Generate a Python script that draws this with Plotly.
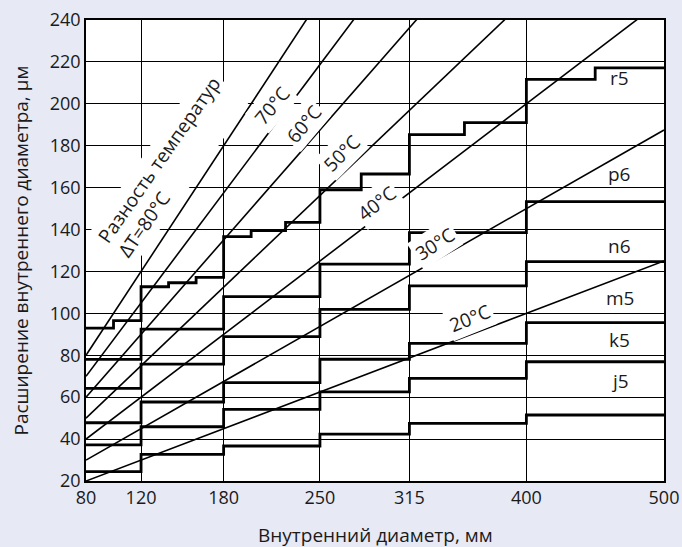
import plotly.graph_objects as go

# ---------------- data ----------------
diam_ticks = [80, 120, 180, 250, 315, 400, 500]

# diameter range boundaries (mm)
bounds_main = [80, 120, 180, 250, 315, 400, 500]
bounds_r5 = [80, 100, 120, 140, 160, 180, 200, 225, 250, 280, 315, 355, 400, 450, 500]

# expansion values (µm) per diameter range
r5 = [93, 96.5, 112.7, 114.6, 117.2, 136.6, 139.5, 143.4, 159, 166.5, 185.3, 191, 211.7, 217.2]
p6 = [78, 92.5, 108, 123.5, 138.5, 153.3]
n6 = [64.2, 75.8, 88.9, 101.9, 113.1, 124.7]
m5 = [47.8, 57.7, 66.9, 78.1, 85.7, 95.6]
k5 = [37.2, 45.9, 54.2, 62.5, 69, 76.9]
j5 = [24.5, 32.7, 36.7, 42.4, 47.5, 51.5]

classes = ["r5", "p6", "n6", "m5", "k5", "j5"]
class_vals = [r5, p6, n6, m5, k5, j5]
class_bounds = [bounds_r5, bounds_main, bounds_main, bounds_main, bounds_main, bounds_main]
class_label_y = [212.5, 166.5, 132.3, 107.2, 87.3, 67.7]
class_label_x = 468

# temperature difference lines: expansion at d=80 and d=500 mm
temps = [20, 30, 40, 50, 60, 70, 80]
exp_at_80 = [20, 30, 40, 50, 60, 70, 80]
exp_at_500 = [125, 187.5, 250, 312.5, 375, 437.5, 500]

# temperature label positions (diameter, expansion, angle)
temp_lbl_x = [359.3, 333.6, 291.7, 266.2, 238.4, 214.9]
temp_lbl_y = [97.6, 133.1, 152.5, 176.4, 190.4, 199.1]
temp_lbl_ang = [-22, -33, -38, -45, -50, -50]
temp_lbl_txt = ["20°C", "30°C", "40°C", "50°C", "60°C", "70°C"]

x_title = "Внутренний диаметр, мм"
y_title = "Расширение внутреннего диаметра, µм"

FONT = "Open Sans"
INK = "#1a1a1a"
BG = "#e7e9f5"

fig = go.Figure()

# diagonal temperature lines
for t, a, b in zip(temps, exp_at_80, exp_at_500):
    fig.add_trace(go.Scatter(
        x=[80, 500], y=[a, b], mode="lines",
        line=dict(color="black", width=1.6),
        hoverinfo="skip", showlegend=False, name=f"{t}°C"))

# step lines for fits
for name, vals, bnds in zip(classes, class_vals, class_bounds):
    fig.add_trace(go.Scatter(
        x=bnds, y=vals + [vals[-1]], mode="lines",
        line=dict(color="black", width=2.8, shape="hv"),
        hoverinfo="skip", showlegend=False, name=name))

annotations = []
for name, ly in zip(classes, class_label_y):
    annotations.append(dict(x=class_label_x, y=ly, xref="x", yref="y", text=name,
                            showarrow=False, font=dict(family=FONT, size=19, color=INK)))

for tx, ty, ang, txt in zip(temp_lbl_x, temp_lbl_y, temp_lbl_ang, temp_lbl_txt):
    annotations.append(dict(x=tx, y=ty, xref="x", yref="y", text=txt, textangle=ang,
                            showarrow=False, bgcolor="white", borderpad=2,
                            font=dict(family=FONT, size=19, color=INK)))

annotations.append(dict(x=141, y=169.9, xref="x", yref="y",
                        text="Разность температур<br>ΔT=80°C", align="left",
                        textangle=-55, showarrow=False, bgcolor="white", borderpad=2,
                        font=dict(family=FONT, size=19, color=INK)))

# axis titles
annotations.append(dict(x=0.5, y=-0.117, xref="paper", yref="paper", text=x_title,
                        showarrow=False, xanchor="center", yanchor="middle",
                        font=dict(family=FONT, size=19, color=INK)))
annotations.append(dict(x=-0.1125, y=0.5, xref="paper", yref="paper", text=y_title,
                        textangle=-90, showarrow=False, xanchor="center", yanchor="middle",
                        font=dict(family=FONT, size=19, color=INK)))

axis_common = dict(
    showgrid=True, gridcolor="black", gridwidth=1,
    showline=True, linecolor="black", linewidth=1.5, mirror=True,
    zeroline=False, ticks="", automargin=False,
    tickfont=dict(family=FONT, size=18, color=INK),
)

fig.update_layout(
    width=682, height=547,
    margin=dict(l=86, r=18, t=20, b=66),
    paper_bgcolor=BG,
    plot_bgcolor="white",
    annotations=annotations,
    xaxis=dict(range=[80, 500], tickmode="array", tickvals=diam_ticks,
               ticktext=[str(v) for v in diam_ticks], **axis_common),
    yaxis=dict(range=[20, 240], tickmode="linear", tick0=20, dtick=20, **axis_common),
    showlegend=False,
)

fig.write_html(
    "out.html",
    config={"displayModeBar": False},
    post_script="document.body.style.margin='0';document.body.style.background='" + BG + "';",
)
